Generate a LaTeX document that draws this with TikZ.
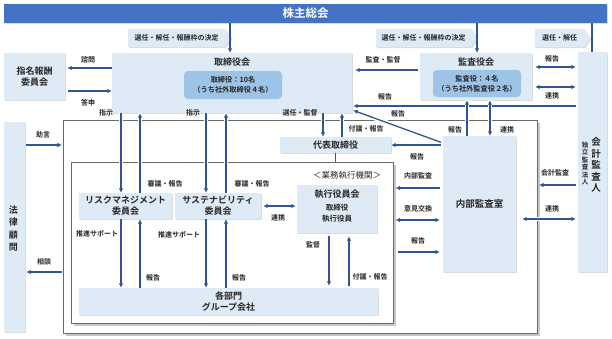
\documentclass[tikz,border=0pt]{standalone}
\usepackage{fontspec}
\setmainfont{Noto Sans CJK JP}[BoldFont={Noto Sans CJK JP Bold}]
\usetikzlibrary{arrows.meta,shadows,shapes.symbols,calc}
\definecolor{bannerc}{RGB}{68,114,196}
\definecolor{boxfill}{RGB}{222,234,246}
\definecolor{innerfill}{RGB}{157,195,230}
\definecolor{arrowc}{RGB}{47,85,151}
\definecolor{framec}{RGB}{105,105,105}
\definecolor{txt}{RGB}{38,38,38}
\begin{document}
\begin{tikzpicture}[x=1pt,y=-1pt,
  box/.style={fill=boxfill, draw=none, inner sep=0pt, align=center, text=txt,
    font=\fontsize{9}{11}\selectfont\bfseries,
    drop shadow={shadow xshift=1.2pt, shadow yshift=-1.2pt, fill=black!28}},
  inbox/.style={fill=innerfill, rounded corners=4pt, inner sep=0pt, align=center, text=txt,
    font=\fontsize{7.2}{10}\selectfont\bfseries},
  tagbox/.style={signal, signal to=east, signal from=nowhere, signal pointer angle=112,
    fill=boxfill, inner sep=0pt, text=txt, font=\fontsize{7}{8}\selectfont\bfseries,
    drop shadow={shadow xshift=1.2pt, shadow yshift=-1.2pt, fill=black!28}},
  frm/.style={draw=framec, line width=1.1pt, inner sep=0pt, fill=none},
  fshadow/.style={draw=black!22, line width=1.3pt},
  arrowline/.style={draw=arrowc, line width=1.3pt},
  arr/.style={arrowline, -{Latex[length=4.5pt,width=4.5pt]}},
  darr/.style={arrowline, {Latex[length=4.5pt,width=4.5pt]}-{Latex[length=4.5pt,width=4.5pt]}},
  gapw/.style={preaction={draw=white, line width=4.5pt, -}},
  lbl/.style={text=txt, font=\fontsize{7}{8}\selectfont\bfseries, inner sep=0pt},
  ttl/.style={text=txt, font=\fontsize{9}{11}\selectfont\bfseries, inner sep=0pt, align=center},
]
\useasboundingbox[fill=white] (0,0) rectangle (612,338);

% helper coordinates (x positions / y positions)
\coordinate (cA) at (121,0);  \coordinate (cB) at (140,0);
\coordinate (cC) at (206,0);  \coordinate (cD) at (226,0);
\coordinate (cE) at (323,0);  \coordinate (cF) at (342,0);
\coordinate (cG) at (467,0);  \coordinate (cH) at (490,0);
\coordinate (cI) at (329,0);  \coordinate (cJ) at (349,0);
\coordinate (cK) at (230,0);  \coordinate (cL) at (477,0);
\coordinate (cM) at (592,0);
\coordinate (r67) at (0,67);  \coordinate (r68) at (0,68);
\coordinate (r70) at (0,70);  \coordinate (r87) at (0,87);
\coordinate (r91) at (0,91);  \coordinate (r106) at (0,106);
\coordinate (r110) at (0,110); \coordinate (r143) at (0,143);
\coordinate (r145) at (0,145); \coordinate (r185) at (0,185);
\coordinate (r188) at (0,188); \coordinate (r219) at (0,219);
\coordinate (r220) at (0,220); \coordinate (r252) at (0,252);
\coordinate (r272) at (0,272);

% frames
\node[frm, draw=none, minimum width=473pt, minimum height=212pt] (outer) at (300.5,227) {};
\node[frm, draw=none, minimum width=321pt, minimum height=160pt] (inner) at (232.5,243) {};
\draw[fshadow] ($(outer.north east)+(1.4,2.5)$) -- ($(outer.south east)+(1.4,1.4)$) -- ($(outer.south west)+(2.5,1.4)$);
\draw[fshadow] ($(inner.north east)+(1.4,2.5)$) -- ($(inner.south east)+(1.4,1.4)$) -- ($(inner.south west)+(2.5,1.4)$);
\draw[frm] (outer.north west) rectangle (outer.south east);
\draw[frm] (inner.north west) rectangle (inner.south east);

% banner
\node[fill=bannerc, minimum width=603pt, minimum height=19pt, inner sep=0pt, text=white,
  font=\fontsize{11.5}{13}\selectfont\bfseries,
  drop shadow={shadow xshift=1.2pt, shadow yshift=-1.2pt, fill=black!28}] (banner) at (305.5,13.5) {株主総会};

% tags
\node[tagbox, minimum width=103pt, minimum height=18pt] (tag1) at (176.5,38) {選任・解任・報酬枠の決定};
\node[tagbox, minimum width=101pt, minimum height=18pt] (tag2) at (423.5,38) {選任・解任・報酬枠の決定};
\node[tagbox, minimum width=55pt, minimum height=18pt] (tag3) at (559.5,38) {選任・解任};

% boxes
\node[box, minimum width=61pt, minimum height=47pt] (sim) at (34.5,76.5) {指名報酬\\委員会};
\node[box, minimum width=240pt, minimum height=60pt] (board) at (232,83) {};
\node[ttl] (boardT) at (232,62) {取締役会};
\node[inbox, minimum width=98pt, minimum height=28pt] (boardIn) at (233,85) {取締役：10名\\（うち社外取締役４名）};
\node[box, minimum width=112pt, minimum height=47pt] (kansa) at (476,76.5) {};
\node[ttl] (kansaT) at (476,62) {監査役会};
\node[inbox, minimum width=88pt, minimum height=27pt] (kansaIn) at (477,83.5) {監査役：４名\\（うち社外監査役２名）};
\node[box, minimum width=29pt, minimum height=220pt] (kaikei) at (592.5,162) {};
\node[ttl, font=\fontsize{9.5}{11.5}\selectfont\bfseries] (kaikeiT) at (596,165) {会\\計\\監\\査\\人};
\node[ttl, font=\fontsize{6.5}{7.4}\selectfont\bfseries] (kaikeiS) at (585,163.5) {独\\立\\監\\査\\法\\人};
\node[box, minimum width=111pt, minimum height=16pt] (daihyo) at (335.5,145) {代表取締役};
\node[box, minimum width=73pt, minimum height=136pt, font=\fontsize{9.5}{11}\selectfont\bfseries] (naibu) at (479.5,204) {内部監査室};
\node[box, minimum width=21pt, minimum height=210pt] (houritsu) at (14.5,227) {};
\node[ttl, font=\fontsize{9}{12.2}\selectfont\bfseries] (houritsuT) at (13.5,228.5) {法\\律\\顧\\問};
\node[box, minimum width=93pt, minimum height=26pt] (risk) at (125.5,206) {リスクマネジメント\\委員会};
\node[box, minimum width=86pt, minimum height=26pt] (sus) at (218,206) {サステナビリティ\\委員会};
\node[box, minimum width=80pt, minimum height=48pt] (shikkou) at (337,209) {};
\node[ttl] (shikkouT) at (337,194) {執行役員会};
\node[ttl, font=\fontsize{7.5}{11}\selectfont\bfseries] (shikkouS) at (337,213.5) {取締役\\執行役員};
\node[box, minimum width=299pt, minimum height=27pt] (kakubu) at (228.5,301.5) {各部門\\グループ会社};
\node[text=txt, font=\fontsize{8.5}{10}\selectfont, inner sep=0pt] (gyomu) at (347,175) {＜業務執行機関＞};

% connectors from banner
\draw[arr] (cK |- banner.south) -- (cK |- board.north);
\draw[arr] (cL |- banner.south) -- (cL |- kansa.north);
\draw[arrowline] (cM |- banner.south) -- (cM |- kaikei.north);
% nomination committee
\draw[arr, shorten >=2pt] (board.west |- r68) -- (sim.east |- r68);
\draw[arr, shorten <=3pt] (sim.east |- r91) -- (board.west |- r91);
% audit board
\draw[arr, shorten <=2pt, shorten >=3pt] (kansa.west |- r70) -- (board.east |- r70);
\draw[darr, shorten <=3pt, shorten >=2pt] (kansa.east |- r67) -- (kaikei.west |- r67);
\draw[darr, shorten <=3pt, shorten >=2pt] (kansa.east |- r87) -- (kaikei.west |- r87);
% accounting auditor report to board
\draw[arr, shorten <=2pt, shorten >=1pt] (kaikei.west |- r106) -- (board.east |- r106);
% internal audit <-> audit board
\draw[arr, gapw] (cG |- naibu.north) -- (cG |- kansa.south);
\draw[darr, gapw] (cH |- naibu.north) -- (cH |- kansa.south);
% internal audit -> board (diagonal) and -> representative director
\draw[arr, gapw, shorten <=2pt, shorten >=1pt] (naibu.west |- r143) -- (board.east |- r110);
\draw[arr, shorten <=2pt] (naibu.west |- daihyo.east) -- (daihyo.east);
% board <-> representative director
\draw[arr, gapw] (cE |- board.south) -- (cE |- daihyo.north);
\draw[arr, gapw] (cF |- daihyo.north) -- (cF |- board.south);
\draw[arrowline] (daihyo.south) -- (daihyo.south |- inner.north);
% board <-> committees
\draw[arr, gapw] (cA |- board.south) -- (cA |- risk.north);
\draw[arr, gapw] (cB |- risk.north) -- (cB |- board.south);
\draw[arr, gapw] (cC |- board.south) -- (cC |- sus.north);
\draw[arr, gapw] (cD |- sus.north) -- (cD |- board.south);
% committees <-> departments
\draw[arr] (cA |- risk.south) -- (cA |- kakubu.north);
\draw[arr] (cB |- kakubu.north) -- (cB |- risk.south);
\draw[arr] (cC |- sus.south) -- (cC |- kakubu.north);
\draw[arr] (cD |- kakubu.north) -- (cD |- sus.south);
\draw[darr, shorten <=2pt, shorten >=1pt] (sus.east) -- (shikkou.west |- sus.east);
% executive committee <-> departments
\draw[arr, shorten <=3pt, shorten >=2pt] (cI |- shikkou.south) -- (cI |- kakubu.north);
\draw[arr, shorten <=2pt, shorten >=3pt] (cJ |- kakubu.north) -- (cJ |- shikkou.south);
% internal audit <-> inner frame
\draw[arr, shorten <=3pt, shorten >=2pt] (naibu.west |- r188) -- (inner.east |- r188);
\draw[darr, shorten <=2pt, shorten >=3pt] (inner.east |- r220) -- (naibu.west |- r220);
\draw[arr, shorten <=4pt, shorten >=3pt] (inner.east |- r252) -- (naibu.west |- r252);
% accounting auditor
\draw[arr, shorten <=2pt, shorten >=1.5pt] (kaikei.west |- r185) -- (outer.east |- r185);
\draw[darr, gapw, shorten <=6pt, shorten >=2pt] (naibu.east |- r219) -- (kaikei.west |- r219);
% legal counsel
\draw[arr, shorten <=1pt, shorten >=1.5pt] (houritsu.east |- r145) -- (outer.west |- r145);
\draw[arr, shorten <=1.5pt, shorten >=1pt] (outer.west |- r272) -- (houritsu.east |- r272);

% labels
\node[lbl] (l1) at (88,60) {諮問};
\node[lbl] (l2) at (88,103) {答申};
\node[lbl] (l3) at (383,60) {監査・監督};
\node[lbl] (l4) at (552,59) {報告};
\node[lbl] (l5) at (552,96) {連携};
\node[lbl] (l6) at (385,97) {報告};
\node[lbl] (l7) at (398,114) {報告};
\node[lbl] (l8) at (106,113) {指示};
\node[lbl] (l9) at (193,113) {指示};
\node[lbl] (l10) at (300,113) {選任・監督};
\node[lbl] (l11) at (366,129) {付議・報告};
\node[lbl] (l12) at (455,130) {報告};
\node[lbl] (l13) at (507,130) {連携};
\node[lbl] (l14) at (417,157) {報告};
\node[lbl] (l15) at (43,135) {助言};
\node[lbl] (l16) at (165,184) {審議・報告};
\node[lbl] (l17) at (252,184) {審議・報告};
\node[lbl] (l18) at (418,176) {内部監査};
\node[lbl] (l19) at (278,218) {連携};
\node[lbl] (l20) at (418,209) {意見交換};
\node[lbl] (l21) at (555,173) {会計監査};
\node[lbl] (l22) at (552,209) {連携};
\node[lbl] (l23) at (97,234) {推進サポート};
\node[lbl] (l24) at (179,235) {推進サポート};
\node[lbl] (l25) at (313,245) {監督};
\node[lbl] (l26) at (418,241) {報告};
\node[lbl] (l27) at (44,262) {相談};
\node[lbl] (l28) at (370,277) {付議・報告};
\node[lbl] (l29) at (153,278) {報告};
\node[lbl] (l30) at (239,278) {報告};
\end{tikzpicture}
\end{document}
